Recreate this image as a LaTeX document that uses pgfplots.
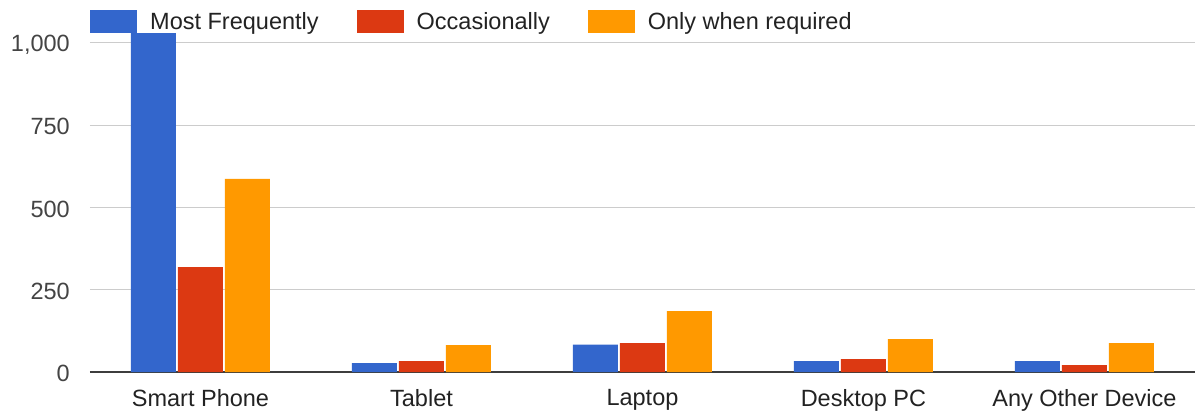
\documentclass[border=0pt]{standalone}
\usepackage{pgfplots}
\pgfplotsset{compat=1.18}
\usepackage{fontspec}
\setmainfont{Liberation Sans}
\definecolor{gblue}{HTML}{3366CC}
\definecolor{gred}{HTML}{DC3912}
\definecolor{gorange}{HTML}{FF9900}
\definecolor{gridc}{HTML}{CCCCCC}
\definecolor{txtdark}{HTML}{222222}
\definecolor{txtgray}{HTML}{444444}
\newcommand\lbl{\fontsize{23.5bp}{28bp}\selectfont}
\pgfplotsset{sq/.style={legend image code/.code={\fill[##1] (0bp,-11.5bp) rectangle (47bp,11.5bp);}}}

\begin{document}
\begin{tikzpicture}
\path[use as bounding box] (-90bp,-42bp) rectangle (1105bp,372bp);
\begin{axis}[
  at={(0,0)}, anchor=south west,
  scale only axis, width=1105bp, height=329bp,
  xmin=-0.5, xmax=4.5, ymin=0, ymax=1000,
  clip=false,
  ybar=2bp, bar width=45bp,
  axis line style={draw=none},
  major tick length=0pt,
  xtick={0,1,2,3,4},
  xticklabels={Smart Phone,Tablet,Laptop,Desktop PC,Any Other Device},
  xticklabel style={font=\lbl, text=txtdark, inner sep=0pt, anchor=north, yshift=-17bp},
  ytick={250,500,750,1000},
  extra y ticks={0},
  extra y tick style={grid style={draw=txtgray!90!black, line width=1.6bp}},
  ymajorgrids,
  grid style={draw=gridc, line width=1bp},
  yticklabel style={font=\lbl, text=txtgray, inner sep=0pt, anchor=east, xshift=-20bp, yshift=-1.5bp},
  /pgf/number format/assume math mode=true,
  /pgf/number format/1000 sep={,},
  legend style={at={(0,1)}, anchor=south west, yshift=10bp, draw=none, fill=none,
    inner sep=0pt, font=\lbl, text=txtdark, legend columns=3,
    /tikz/every odd column/.append style={column sep=11bp},
    /tikz/every even column/.append style={column sep=36bp}},
  legend cell align=left,
]
\addplot[sq, fill=gblue, draw=none] coordinates {(0,1030) (1,27) (2,83) (3,33) (4,33)};
\addplot[sq, fill=gred, draw=none] coordinates {(0,319) (1,33) (2,88) (3,39) (4,21)};
\addplot[sq, fill=gorange, draw=none] coordinates {(0,587) (1,82) (2,185) (3,100) (4,88)};
\legend{Most Frequently,Occasionally,Only when required}
\end{axis}
\end{tikzpicture}
\end{document}
